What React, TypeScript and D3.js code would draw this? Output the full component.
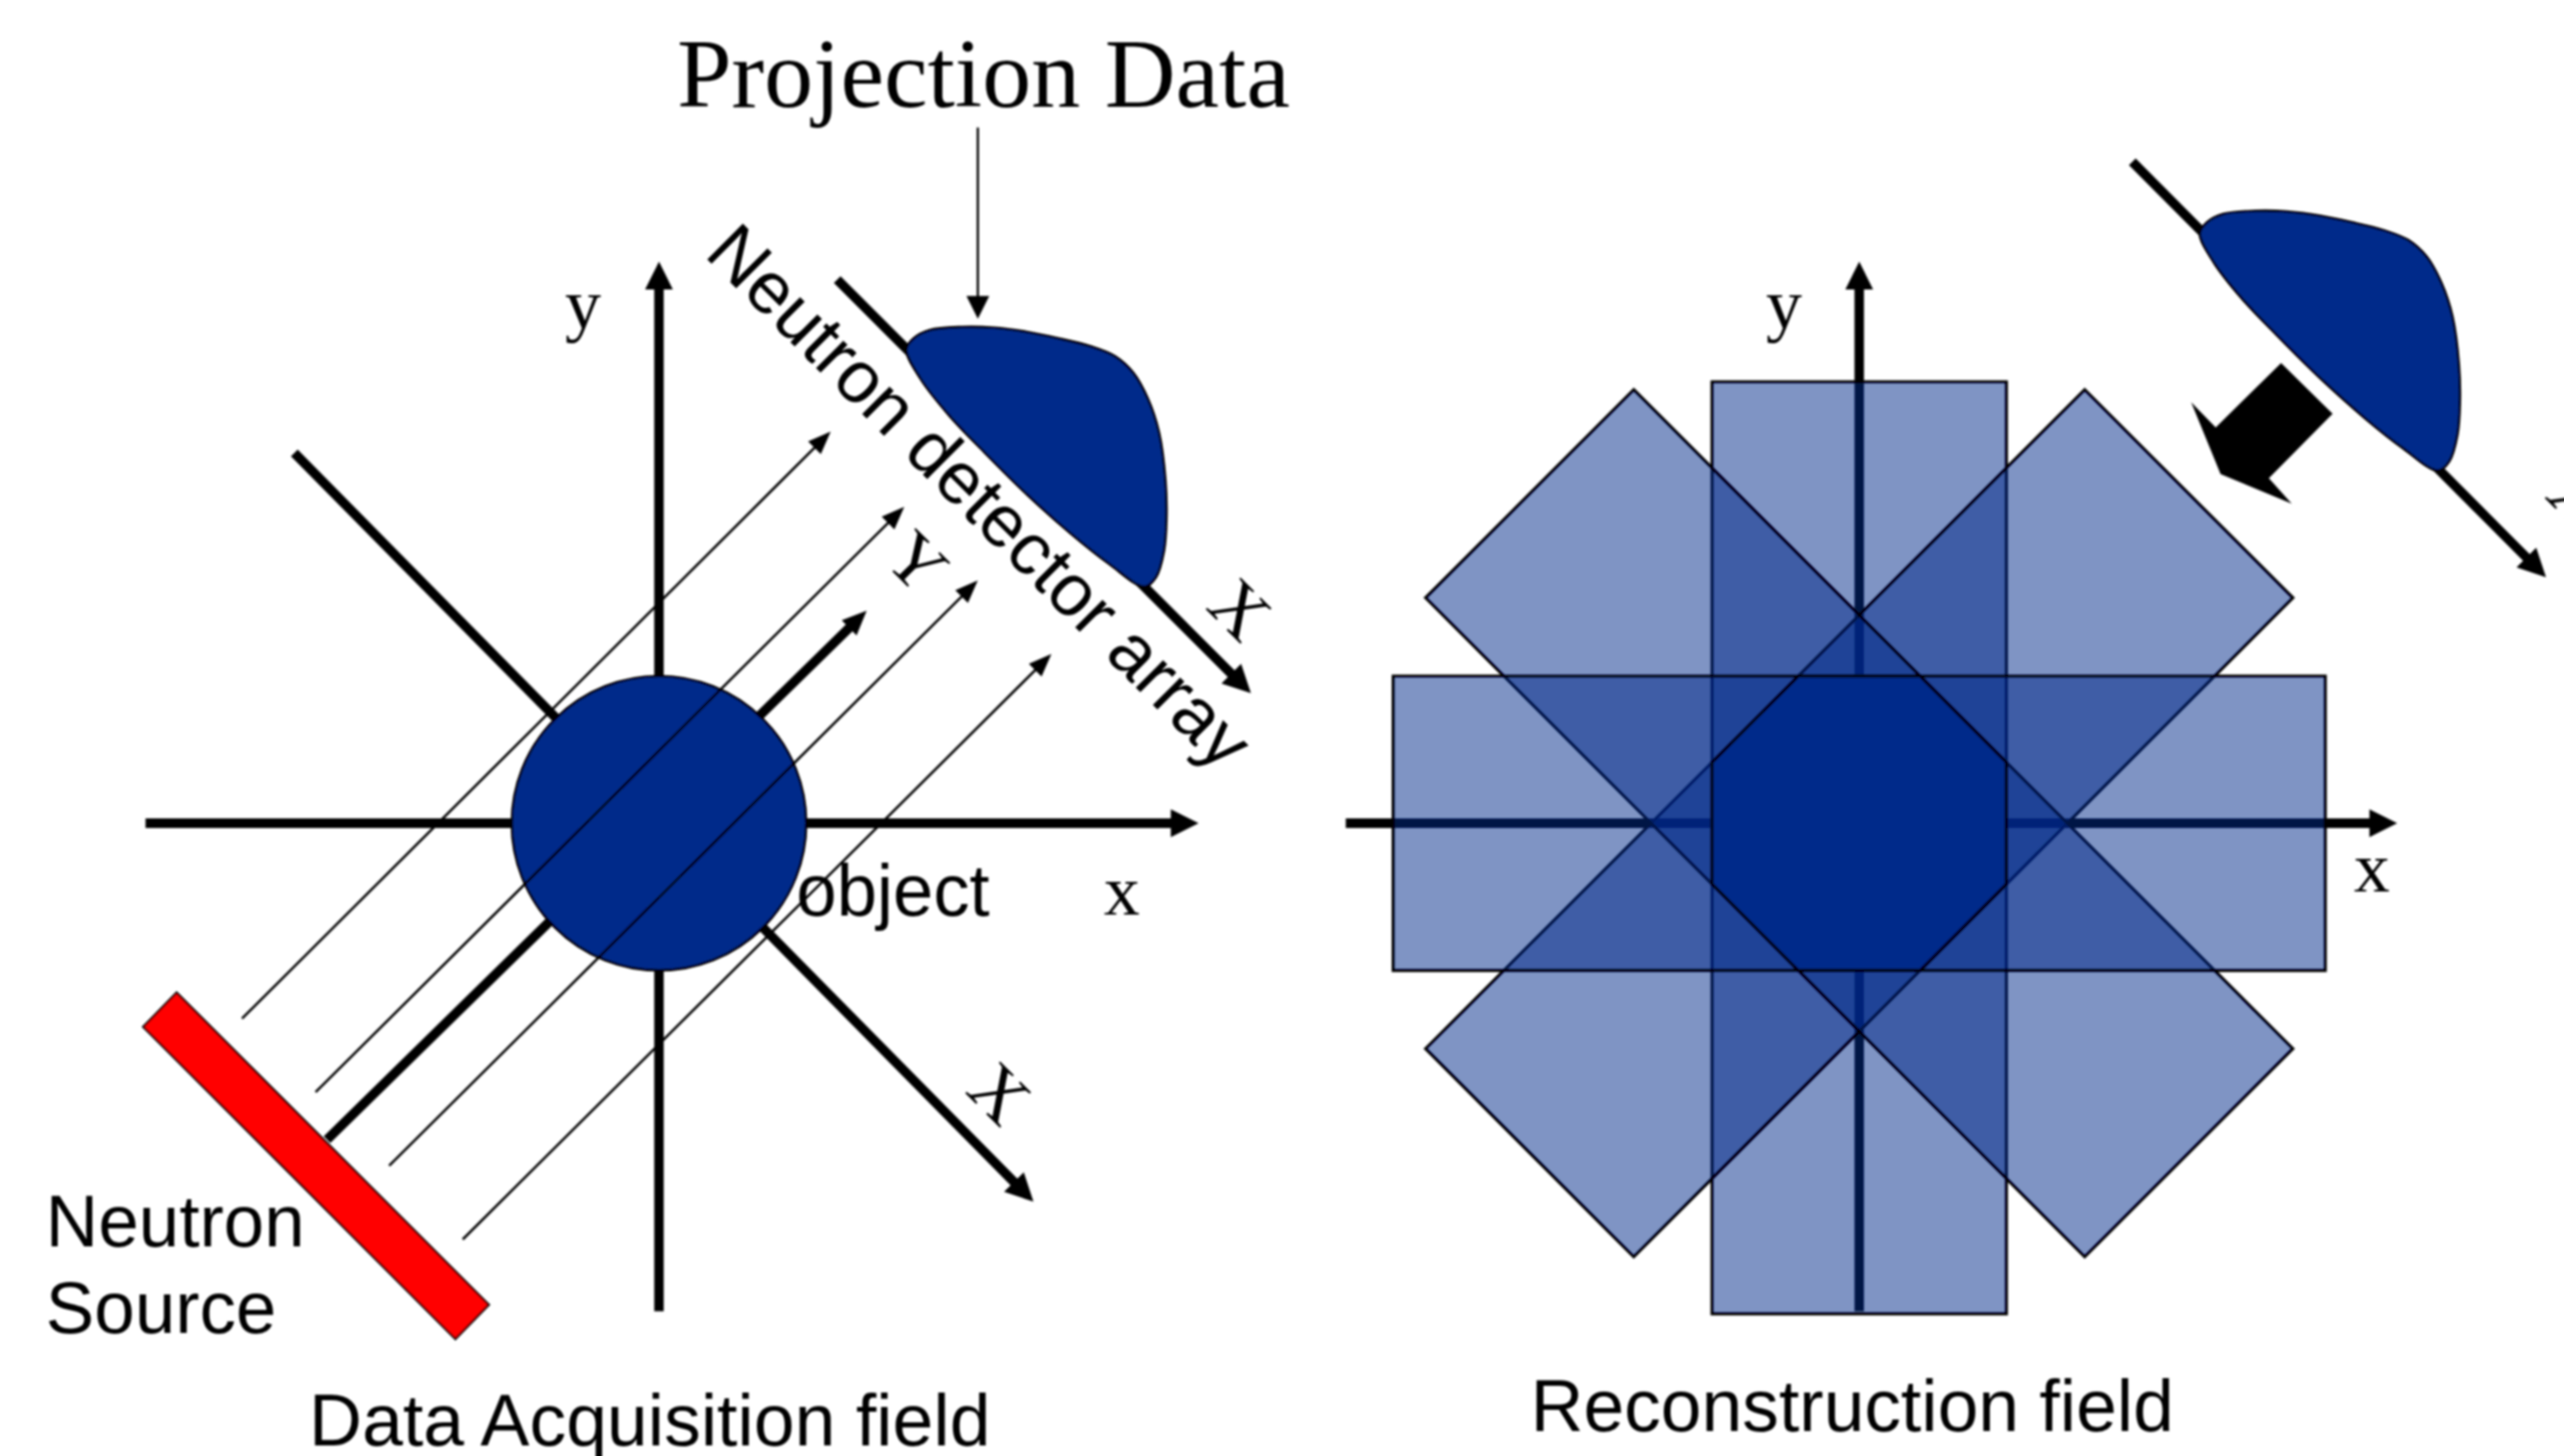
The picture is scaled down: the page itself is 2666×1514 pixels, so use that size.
import React from "react";
import * as d3 from "d3";

type Pt = [number, number];

// All source values are read in a 1568 x 890.5 reading frame of the picture.
const frameWidth = 1568;
const frameHeight = 890.5;
const navy = "#002a8a";

const projectionLabel = "Projection Data";
const blobShape: Pt[] = [
  [554.3, 213.7], [558.8, 206.9], [568.6, 201.9], [588.2, 200], [607.8, 200.4], [627.5, 202.9],
  [647, 206.9], [666.7, 211.8], [682, 218], [693, 228], [702, 244], [708.8, 264.7],
  [712.7, 294], [713.3, 317.6], [711.8, 337], [706.9, 353], [700, 358.8],
  [678.4, 345], [655, 326.5], [627.5, 301.9], [601.9, 276.5], [580.4, 254], [562.8, 231.4],
];
const blobOffsets: Pt[] = [[0, 0], [791, -71]];

const thickArrows: [Pt, Pt][] = [
  [[89, 503.5], [733, 503.5]],
  [[403, 802], [403, 160]],
  [[180, 277], [632, 735]],
  [[200, 697], [530, 373.5]],
  [[512, 171], [765, 424]],
  [[823, 503.5], [1466, 503.5]],
  [[1137, 802], [1137, 160]],
  [[1304, 99], [1557, 353]],
];
const thinArrows: [Pt, Pt][] = [
  [[148, 623], [508, 264]],
  [[193, 668], [553, 310]],
  [[238, 713], [598, 355]],
  [[283, 758], [643, 400]],
];
const pointerArrow: [Pt, Pt] = [[598, 78], [598, 195]];

const sourceBar: Pt[] = [[108, 607], [299, 798], [278.5, 819], [87.5, 628]];
const blockArrow: Pt[] = [
  [1395, 222], [1426.5, 253], [1387.5, 292.5], [1401.5, 308], [1358, 290], [1340, 246], [1355, 261.5],
];

const objectCenter: Pt = [403, 503.5];
const objectRadius = 90;
const fieldCenter: Pt = [1137, 503.5];
const fieldWidth = 180;
const fieldLength = 570;
const fieldAngles = [90, 135, 45, 0];
const fieldShifts = [15, 0, 0, 0];

const sansLabels: { text: string; x: number; y: number; size: number; rotate?: number; anchor?: string }[] = [
  { text: "Data Acquisition field", x: 189, y: 884, size: 44.9 },
  { text: "Reconstruction field", x: 936, y: 875, size: 44.8 },
  { text: "Neutron", x: 28, y: 762, size: 44.5 },
  { text: "Source", x: 28, y: 815.5, size: 44.5 },
  { text: "object", x: 487, y: 560, size: 44.3 },
  { text: "Neutron detector array", x: 430, y: 156, size: 44.8, rotate: 45 },
];
const serifLabels: { text: string; x: number; y: number; size: number; rotate?: number; anchor?: string }[] = [
  { text: projectionLabel, x: 414, y: 65, size: 60 },
  { text: "x", x: 675, y: 559.5, size: 44 },
  { text: "x", x: 1439.5, y: 545, size: 44 },
  { text: "y", x: 345.5, y: 200.5, size: 44 },
  { text: "y", x: 1080, y: 200.5, size: 44 },
  { text: "X", x: 755, y: 376, size: 44, rotate: 45, anchor: "middle" },
  { text: "Y", x: 557.5, y: 347, size: 44, rotate: 45, anchor: "middle" },
  { text: "X", x: 608, y: 672, size: 44, rotate: 45, anchor: "middle" },
  { text: "X", x: 1574, y: 308, size: 44, rotate: 45, anchor: "middle" },
];

const W = 2666;
const H = 1514;
const sx = d3.scaleLinear().domain([0, frameWidth]).range([0, W]);
const sy = d3.scaleLinear().domain([0, frameHeight]).range([0, H]);
const k = W / frameWidth;

const px = (p: Pt): Pt => [sx(p[0]), sy(p[1])];
const closedLine = d3.line().curve(d3.curveLinearClosed);
const smoothClosed = d3.line().curve(d3.curveCatmullRomClosed.alpha(0.5));
const polyPath = (pts: Pt[]) => closedLine(pts.map(px)) as string;

function Arrow({ seg, width, headL, headW }: { seg: [Pt, Pt]; width: number; headL: number; headW: number }) {
  const [a, b] = [px(seg[0]), px(seg[1])];
  const dx = b[0] - a[0];
  const dy = b[1] - a[1];
  const len = Math.hypot(dx, dy);
  const ux = dx / len;
  const uy = dy / len;
  const hl = headL * k;
  const hw = (headW * k) / 2;
  const base: Pt = [b[0] - ux * hl, b[1] - uy * hl];
  const head: Pt[] = [b, [base[0] - uy * hw, base[1] + ux * hw], [base[0] + uy * hw, base[1] - ux * hw]];
  return (
    <g>
      <line x1={a[0]} y1={a[1]} x2={base[0] + ux} y2={base[1] + uy} stroke="#000" strokeWidth={width * k} />
      <path d={closedLine(head) as string} fill="#000" />
    </g>
  );
}

function fieldRect(angle: number, shift: number): string {
  const rad = (angle * Math.PI) / 180;
  const c = Math.cos(rad);
  const s = Math.sin(rad);
  const hl = fieldLength / 2;
  const hw = fieldWidth / 2;
  const corners: Pt[] = ([[-hl, -hw], [hl, -hw], [hl, hw], [-hl, hw]] as Pt[]).map(
    ([u, v]) => [fieldCenter[0] + u * c - v * s, fieldCenter[1] + shift + u * s + v * c] as Pt,
  );
  return polyPath(corners);
}

function octagon(): string {
  const r = fieldWidth / 2 / Math.cos(Math.PI / 8);
  const pts: Pt[] = d3.range(8).map((i) => {
    const t = Math.PI / 8 + (i * Math.PI) / 4;
    return [fieldCenter[0] + r * Math.cos(t), fieldCenter[1] + r * Math.sin(t)] as Pt;
  });
  return polyPath(pts);
}

function Label({ l, family }: { l: (typeof sansLabels)[number]; family: string }) {
  const [x, y] = px([l.x, l.y]);
  return (
    <text
      x={x}
      y={y}
      fontFamily={family}
      fontSize={l.size * k}
      textAnchor={l.anchor ?? "start"}
      dominantBaseline={l.anchor ? "middle" : undefined}
      transform={l.rotate ? `rotate(${l.rotate} ${x} ${y})` : undefined}
      fill="#000"
    >
      {l.text}
    </text>
  );
}

export default function App() {
  const [cx, cy] = px(objectCenter);
  const blobPath = (off: Pt) =>
    smoothClosed(blobShape.map((p) => px([p[0] + off[0], p[1] + off[1]]))) as string;
  return (
    <svg
      width={W}
      height={H}
      viewBox={`0 0 ${W} ${H}`}
      style={{ position: "absolute", left: 0, top: 0, background: "#fff" }}
    >
      <defs>
        <filter id="soft" x="0" y="0" width="100%" height="100%" filterUnits="userSpaceOnUse">
          <feGaussianBlur stdDeviation="0.9" />
        </filter>
      </defs>
      <g filter="url(#soft)">
        {thickArrows.map((s, i) => (
          <Arrow key={i} seg={s} width={5.8} headL={i === 3 ? 15 : 17} headW={i === 3 ? 13 : 17} />
        ))}
        <path d={polyPath(sourceBar)} fill="#ff0000" stroke="#000" strokeWidth={2.2} />
        <circle cx={cx} cy={cy} r={objectRadius * k} fill={navy} stroke="#000" strokeWidth={2.6} />
        {blobOffsets.map((o, i) => (
          <path key={i} d={blobPath(o)} fill={navy} stroke="#000" strokeWidth={2.6} />
        ))}
        <path d={polyPath(blockArrow)} fill="#000" />
        {thinArrows.map((s, i) => (
          <Arrow key={i} seg={s} width={1.5} headL={14} headW={11} />
        ))}
        <Arrow seg={pointerArrow} width={1.4} headL={14} headW={14} />
        {fieldAngles.map((a, i) => (
          <path key={a} d={fieldRect(a, fieldShifts[i])} fill={navy} fillOpacity={0.5} stroke="#000" strokeWidth={3.2} />
        ))}
        <path d={octagon()} fill={navy} stroke="#000" strokeWidth={3.2} />
        {sansLabels.map((l, i) => (
          <Label key={i} l={l} family="'Liberation Sans', Arial, sans-serif" />
        ))}
        {serifLabels.map((l, i) => (
          <Label key={i} l={l} family="'Liberation Serif', 'Times New Roman', serif" />
        ))}
      </g>
    </svg>
  );
}
